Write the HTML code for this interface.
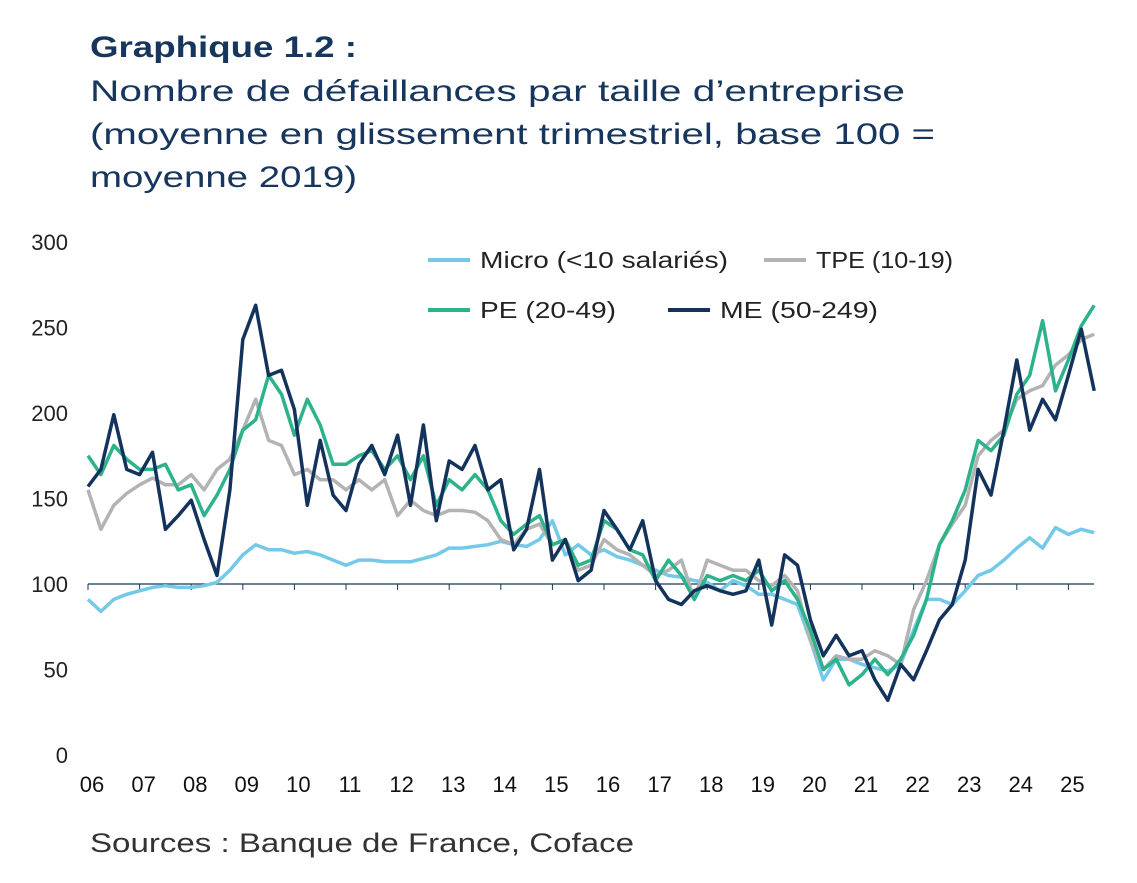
<!DOCTYPE html>
<html><head><meta charset="utf-8"><style>
body{margin:0;background:#fff;width:1137px;height:878px;overflow:hidden;font-family:"Liberation Sans",sans-serif;}
</style></head><body>
<svg id="chart" width="1137" height="878" xmlns="http://www.w3.org/2000/svg" font-family="Liberation Sans, sans-serif">
<text x="90" y="57" font-size="30" font-weight="bold" fill="#17365d" textLength="267" lengthAdjust="spacingAndGlyphs">Graphique 1.2 :</text>
<text x="90" y="101" font-size="30" fill="#17365d" textLength="815" lengthAdjust="spacingAndGlyphs">Nombre de défaillances par taille d’entreprise</text>
<text x="90" y="144" font-size="30" fill="#17365d" textLength="845" lengthAdjust="spacingAndGlyphs">(moyenne en glissement trimestriel, base 100 =</text>
<text x="90" y="187" font-size="30" fill="#17365d" textLength="267" lengthAdjust="spacingAndGlyphs">moyenne 2019)</text>
<text x="90" y="852" font-size="27" fill="#333" textLength="544" lengthAdjust="spacingAndGlyphs">Sources : Banque de France, Coface</text>
<g id="yaxis"></g>
<g id="xaxis"></g>
<g id="series"></g>
<g font-size="23" fill="#222">
<g><line x1="428" y1="260" x2="470" y2="260" stroke="#74c9e8" stroke-width="4"/><text x="480" y="268" textLength="248" lengthAdjust="spacingAndGlyphs">Micro (&lt;10 salariés)</text></g>
<g><line x1="764" y1="260" x2="806" y2="260" stroke="#b3b3b3" stroke-width="4"/><text x="816" y="268" textLength="137" lengthAdjust="spacingAndGlyphs">TPE (10-19)</text></g>
<g><line x1="428" y1="310" x2="470" y2="310" stroke="#2cb38c" stroke-width="4"/><text x="480" y="318" textLength="136" lengthAdjust="spacingAndGlyphs">PE (20-49)</text></g>
<g><line x1="668" y1="310" x2="710" y2="310" stroke="#13335c" stroke-width="4"/><text x="720" y="318" textLength="158" lengthAdjust="spacingAndGlyphs">ME (50-249)</text></g>
</g>
</svg>
<script>
const years=["06","07","08","09","10","11","12","13","14","15","16","17","18","19","20","21","22","23","24","25"];
const yTicks=[0,50,100,150,200,250,300];
const micro=[91,84,91,94,96,98,99,98,98,99,101,108,117,123,120,120,118,119,117,114,111,114,114,113,113,113,115,117,121,121,122,123,125,123,122,126,137,117,123,117,120,116,114,111,108,105,104,102,101,96,102,99,94,94,91,88,67,44,56,56,53,51,49,53,73,91,91,88,96,105,108,114,121,127,121,133,129,132,130];
const tpe=[155,132,146,153,158,162,158,158,164,155,167,173,190,208,184,181,164,167,161,161,155,161,155,161,140,149,143,140,143,143,142,137,126,123,132,135,123,126,108,111,126,120,117,111,105,108,114,91,114,111,108,108,102,99,105,96,67,50,58,56,56,61,58,53,85,102,123,135,146,175,184,190,208,213,216,228,234,243,246];
const pe=[175,164,181,173,167,167,170,155,158,140,152,167,190,196,222,211,187,208,193,170,170,175,178,167,175,161,175,146,161,155,164,155,137,129,135,140,123,126,111,114,137,132,120,117,102,114,105,91,105,102,105,102,108,96,102,91,73,50,56,41,47,56,47,56,70,91,123,137,155,184,178,187,211,222,254,213,231,251,263];
const me=[157,167,199,167,164,177,132,140,149,126,105,155,243,263,222,225,202,146,184,152,143,170,181,164,187,146,193,137,172,167,181,155,161,120,132,167,114,126,102,108,143,132,120,137,102,91,88,96,99,96,94,96,114,76,117,111,79,58,70,58,61,44,32,53,44,61,79,88,114,167,152,190,231,190,208,196,222,249,213];
const x0=88,yearW=51.6,step=0.25;
function xs(t){return x0+t*yearW;}
function ys(v){return 755-v*1.71;}
const NS="http://www.w3.org/2000/svg";
const ya=document.getElementById('yaxis');
yTicks.forEach(v=>{const t=document.createElementNS(NS,'text');


t.setAttribute('x',68);t.setAttribute('y',ys(v)+8);t.setAttribute('text-anchor','end');t.setAttribute('font-size','22');t.setAttribute('fill','#222');t.textContent=v;ya.appendChild(t);});
const xa=document.getElementById('xaxis');
const bl=document.createElementNS(NS,'line');


bl.setAttribute('x1',88);bl.setAttribute('x2',1094);bl.setAttribute('y1',ys(100));bl.setAttribute('y2',ys(100));bl.setAttribute('stroke','#17365d');bl.setAttribute('stroke-width','1.3');xa.appendChild(bl);
years.forEach((y,i)=>{
const tk=document.createElementNS(NS,'line');


tk.setAttribute('x1',xs(i));tk.setAttribute('x2',xs(i));tk.setAttribute('y1',ys(100));tk.setAttribute('y2',ys(100)+6);tk.setAttribute('stroke','#17365d');xa.appendChild(tk);
const t=document.createElementNS(NS,'text');


t.setAttribute('x',xs(i)+4);t.setAttribute('y',792);t.setAttribute('text-anchor','middle');t.setAttribute('font-size','22');t.setAttribute('fill','#111');t.textContent=y;xa.appendChild(t);});
const sg=document.getElementById('series');
[[micro,'#74c9e8','line-micro'],[tpe,'#b3b3b3','line-tpe'],[pe,'#2cb38c','line-pe'],[me,'#13335c','line-me']].forEach(([d,c,n])=>{
const p=document.createElementNS(NS,'path');


p.setAttribute('d',d.map((v,i)=>(i?'L':'M')+xs(Math.min(i*step,19.5)).toFixed(1)+','+ys(v).toFixed(1)).join(''));
p.setAttribute('fill','none');p.setAttribute('stroke',c);p.setAttribute('stroke-width','3.5');p.setAttribute('stroke-linejoin','round');sg.appendChild(p);});
</script>
</body></html>
